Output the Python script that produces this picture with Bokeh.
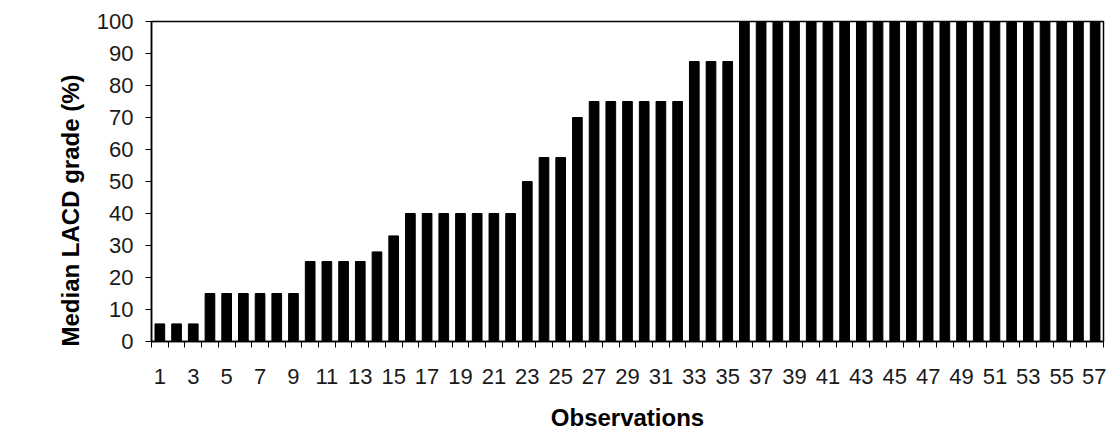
from bokeh.plotting import figure
from bokeh.models import Range1d, FixedTicker, ColumnDataSource, Title, LinearAxis
from bokeh.embed import file_html
from bokeh.resources import INLINE

observations = list(range(1, 58))
grades = ([5.5] * 3 + [15] * 6 + [25] * 4 + [28, 33] + [40] * 7 + [50] + [57.5] * 2 +
          [70] + [75] * 6 + [87.5] * 3 + [100] * 22)
x_tick_values = list(range(1, 58, 2))
x_tick_labels = [str(v) for v in x_tick_values]
y_tick_values = list(range(0, 101, 10))

src = ColumnDataSource(dict(x=observations, y=grades))

p = figure(width=1106, height=433, output_backend="svg", toolbar_location=None,
           x_range=Range1d(0.5, 57.5), y_range=Range1d(0, 100),
           min_border_left=151, min_border_top=21, min_border_right=3, min_border_bottom=91)

p.vbar(x="x", top="y", width=0.58, source=src, fill_color="black", line_color="black")

p.xgrid.visible = False
p.ygrid.visible = False
p.outline_line_color = "black"
p.outline_line_width = 1.5

FONT = "Liberation Sans"

p.xaxis.ticker = FixedTicker(ticks=x_tick_values,
                             minor_ticks=[i + 0.5 for i in range(0, 58)])
p.xaxis.major_label_overrides = {v: s for v, s in zip(x_tick_values, x_tick_labels)}
p.xaxis.major_tick_out = 0
p.xaxis.major_tick_in = 0
p.xaxis.minor_tick_out = 6
p.xaxis.minor_tick_in = 0
p.xaxis.minor_tick_line_color = "black"
p.xaxis.major_label_standoff = 21
p.xaxis.axis_label = "Observations"
p.xaxis.axis_label_standoff = 17

p.yaxis.ticker = FixedTicker(ticks=y_tick_values, minor_ticks=[])
p.yaxis.major_tick_out = 6
p.yaxis.major_tick_in = 0
p.yaxis.major_label_standoff = 12

for ax in (p.xaxis, p.yaxis):
    ax.axis_line_color = "black"
    ax.axis_line_width = 1.5
    ax.major_tick_line_color = "black"
    ax.major_label_text_font = FONT
    ax.major_label_text_font_size = "22px"
    ax.major_label_text_color = "#1a1a1a"
    ax.axis_label_text_font = FONT
    ax.axis_label_text_font_size = "24px"
    ax.axis_label_text_font_style = "bold"
    ax.axis_label_text_color = "black"

# invisible spacer between the tick labels and the y title
spacer = LinearAxis(ticker=FixedTicker(ticks=[], minor_ticks=[]),
                    major_tick_out=49, major_tick_in=0, minor_tick_out=0, minor_tick_in=0,
                    major_label_standoff=0, axis_line_color=None,
                    major_tick_line_color=None, minor_tick_line_color=None)
p.add_layout(spacer, "left")

ytitle = Title(text="Median LACD grade (%)", align="left", offset=-5, standoff=16,
               vertical_align="top",
               text_font=FONT, text_font_size="24px", text_font_style="bold",
               text_color="black")
p.add_layout(ytitle, "left")

open("out.html", "w").write(file_html(p, INLINE))
